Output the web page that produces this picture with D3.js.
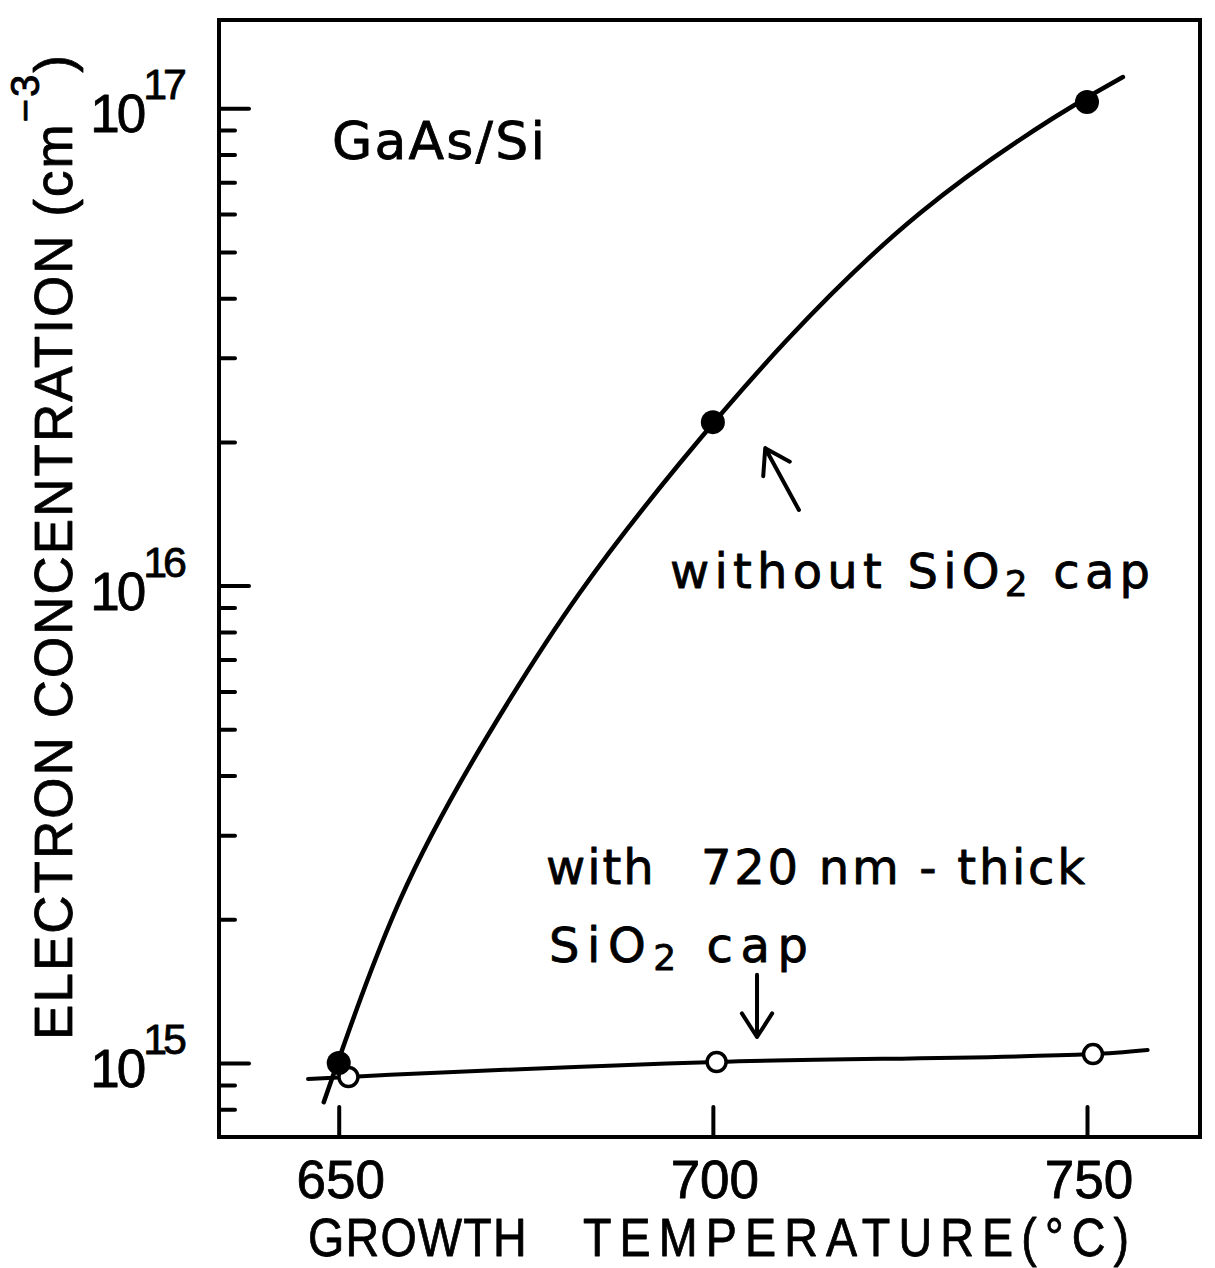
<!DOCTYPE html>
<html>
<head>
<meta charset="utf-8">
<script src="https://cdn.jsdelivr.net/npm/d3@7"></script>
<style>
  html, body { margin: 0; padding: 0; background: #fff; }
  svg { display: block; }
  text { font-family: "Liberation Sans", Arial, sans-serif; fill: #000; stroke: #000; stroke-width: 0.8px; stroke-linejoin: round; }
  text.note { font-family: "DejaVu Sans", "Liberation Sans", sans-serif; }
</style>
</head>
<body>
<svg id="chart" width="1215" height="1268"></svg>
<script>
// Electron concentration (cm^-3) versus growth temperature (°C), GaAs on Si

// Samples grown without a SiO2 cap (filled circles)
const uncappedTemps = [650, 700, 750];
const uncappedConc  = [1.0e15, 2.2e16, 1.03e17];

// Samples with a 720 nm-thick SiO2 cap (open circles)
const cappedTemps = [651.3, 700.5, 750.8];
const cappedConc  = [9.35e14, 1.005e15, 1.044e15];

// Guide curve drawn through the uncapped samples
const uncappedCurveTemps = [648.0, 658.2, 669.8, 682.2, 695.6, 709.9, 727.7, 745.5, 754.8];
const uncappedCurveConc  = [8.28e14, 2.196e15, 4.818e15, 9.65e15, 1.806e16, 3.268e16,
                            6.032e16, 9.537e16, 1.162e17];

// Guide line drawn through the capped samples
const cappedLineTemps = [645.9, 651.3, 700.5, 750.8, 758.1];
const cappedLineConc  = [9.26e14, 9.35e14, 1.005e15, 1.044e15, 1.065e15];

// Axis ticks and labels
const xTickValues = [650, 700, 750];
const xTickLabels = ["650", "700", "750"];
const yMajorValues = [1e15, 1e16, 1e17];
const yTickBases = ["10", "10", "10"];
const yTickExponents = ["15", "16", "17"];

// ---------------------------------------------------------------------------
const svg = d3.select("#chart");
const FONT = 53;

const x = d3.scaleLinear().domain([634, 765.1]).range([219, 1200]);
const y = d3.scaleLog().domain([7e14, 1.53e17]).range([1137, 20]);

const [plotLeft, plotRight] = x.range();
const [plotBottom, plotTop] = y.range();

// stretch a text run to a given width by adjusting letter spacing
function fitWidth(node, width) {
  node.style.letterSpacing = "0px";
  const w0 = node.getComputedTextLength();
  const n = node.getNumberOfChars();
  node.style.letterSpacing = ((width - w0) / Math.max(1, n - 1)) + "px";
}

// frame
svg.append("rect")
  .attr("x", plotLeft).attr("y", plotTop)
  .attr("width", plotRight - plotLeft).attr("height", plotBottom - plotTop)
  .attr("fill", "none").attr("stroke", "#000").attr("stroke-width", 4);

function styleAxis(g) {
  g.select(".domain").remove();
  g.selectAll("line").attr("stroke", "#000").attr("stroke-width", 4).attr("stroke-linecap", "round");
}

// y ticks, pointing into the plot
const yMinorValues = y.ticks().filter(v => v > 7.2e14 && !yMajorValues.some(m => Math.abs(m - v) / m < 1e-9));
svg.append("g").attr("transform", `translate(${plotLeft},0)`)
  .call(d3.axisRight(y).tickValues(yMinorValues).tickSize(16).tickFormat(""))
  .call(styleAxis);
svg.append("g").attr("transform", `translate(${plotLeft},0)`)
  .call(d3.axisRight(y).tickValues(yMajorValues).tickSize(30).tickFormat(""))
  .call(styleAxis);

// x ticks, pointing into the plot
svg.append("g").attr("transform", `translate(0,${plotBottom})`)
  .call(d3.axisTop(x).tickValues(xTickValues).tickSize(30).tickFormat(""))
  .call(styleAxis);

// x tick labels
svg.append("g").selectAll("text")
  .data(xTickValues)
  .join("text")
  .attr("x", d => x(d) + 2)
  .attr("y", 1198)
  .attr("text-anchor", "middle")
  .style("font-size", FONT + "px")
  .text((d, i) => xTickLabels[i]);

// y tick labels with superscript exponents
svg.append("g").selectAll("text")
  .data(yMajorValues)
  .join("text")
  .attr("x", 183)
  .attr("y", d => y(d) + 24)
  .attr("text-anchor", "end")
  .style("font-size", FONT + "px")
  .each(function (d, i) {
    const t = d3.select(this);
    t.append("tspan").style("letter-spacing", "-3px").text(yTickBases[i]);
    t.append("tspan").attr("dy", -33).style("font-size", "43px").style("letter-spacing", "-4px").text(yTickExponents[i]);
  });

// axis titles (lettering slightly condensed horizontally)
const condense = 0.88;
const xTitle = svg.append("text")
  .attr("transform", `translate(308,1256) scale(${condense},1)`)
  .style("font-size", FONT + "px");
const xt1 = xTitle.append("tspan").attr("x", 0).text("GROWTH ");
const xt2 = xTitle.append("tspan").attr("x", (583 - 308) / condense).text("TEMPERATURE(°C)");
fitWidth(xt1.node(), (525 - 308 + 16) / condense);
fitWidth(xt2.node(), (1129 - 583) / condense);

const yTitle = svg.append("text")
  .attr("transform", "translate(72,1040) rotate(-90)")
  .style("font-size", FONT + "px");
yTitle.append("tspan").text("ELECTRON CONCENTRATION (cm");
yTitle.append("tspan").attr("dy", -33).style("font-size", "40px").text("−3");
yTitle.append("tspan").attr("dy", 33).text(")");
fitWidth(yTitle.node(), 985);

// guide curves
const smoothLine = d3.line()
  .x(d => x(d[0]))
  .y(d => y(d[1]))
  .curve(d3.curveNatural);

const straightLine = d3.line()
  .x(d => x(d[0]))
  .y(d => y(d[1]))
  .curve(d3.curveMonotoneX);

svg.append("path")
  .datum(d3.zip(uncappedCurveTemps, uncappedCurveConc))
  .attr("d", smoothLine)
  .attr("fill", "none").attr("stroke", "#000").attr("stroke-width", 4.5)
  .attr("stroke-linecap", "round");

svg.append("path")
  .datum(d3.zip(cappedLineTemps, cappedLineConc))
  .attr("d", straightLine)
  .attr("fill", "none").attr("stroke", "#000").attr("stroke-width", 4)
  .attr("stroke-linecap", "round");

// data points
svg.append("g").selectAll("circle")
  .data(d3.zip(cappedTemps, cappedConc))
  .join("circle")
  .attr("cx", d => x(d[0])).attr("cy", d => y(d[1]))
  .attr("r", 9.5)
  .attr("fill", "#fff").attr("stroke", "#000").attr("stroke-width", 3.5);

svg.append("g").selectAll("circle")
  .data(d3.zip(uncappedTemps, uncappedConc))
  .join("circle")
  .attr("cx", d => x(d[0])).attr("cy", d => y(d[1]))
  .attr("r", 12)
  .attr("fill", "#000");

// annotation arrows, given in data coordinates (temperature, concentration)
function arrow(from, to) {
  const x0 = x(from[0]), y0 = y(from[1]), x1 = x(to[0]), y1 = y(to[1]);
  const a = Math.atan2(y0 - y1, x0 - x1);
  const len = 28, spread = Math.PI / 5.5;
  const p = d3.path();
  p.moveTo(x0, y0); p.lineTo(x1, y1);
  p.moveTo(x1 + len * Math.cos(a - spread), y1 + len * Math.sin(a - spread));
  p.lineTo(x1, y1);
  p.lineTo(x1 + len * Math.cos(a + spread), y1 + len * Math.sin(a + spread));
  svg.append("path").attr("d", p.toString())
    .attr("fill", "none").attr("stroke", "#000").attr("stroke-width", 4)
    .attr("stroke-linecap", "round").attr("stroke-linejoin", "round");
}
arrow([711.5, 1.44e16], [707.0, 1.94e16]);
arrow([705.9, 1.53e15], [705.9, 1.134e15]);

// annotations
const gaas = svg.append("text").attr("class", "note")
  .attr("x", 332).attr("y", 159)
  .style("font-size", "52px")
  .text("GaAs/Si");
fitWidth(gaas.node(), 545 - 332);

function withSubscript(t, before, sub, after) {
  t.append("tspan").text(before);
  t.append("tspan").attr("dy", 8).style("font-size", "36px").text(sub);
  t.append("tspan").attr("dy", -8).text(after);
}

const without = svg.append("text").attr("class", "note")
  .attr("x", 670).attr("y", 588)
  .style("font-size", "48px");
withSubscript(without, "without SiO", "2", " cap");
fitWidth(without.node(), 1150 - 670);

const withCap = svg.append("text").attr("class", "note")
  .attr("y", 884)
  .style("font-size", "48px");
const w1 = withCap.append("tspan").attr("x", 546).text("with ");
const w2 = withCap.append("tspan").attr("x", 701).text("720 nm - thick");
fitWidth(w1.node(), 655 - 546 + 16);
fitWidth(w2.node(), 1085 - 701);

const capLine = svg.append("text").attr("class", "note")
  .attr("x", 549).attr("y", 962)
  .style("font-size", "48px");
withSubscript(capLine, "SiO", "2", " cap");
fitWidth(capLine.node(), 808 - 549);
</script>
</body>
</html>
